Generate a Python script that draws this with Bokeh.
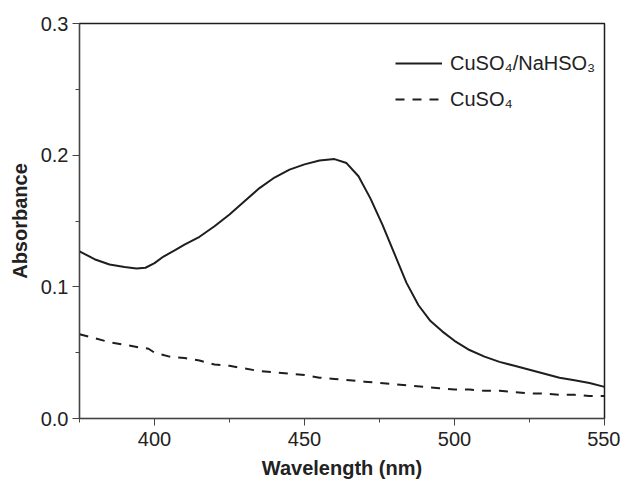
from bokeh.plotting import figure
from bokeh.models import Range1d, FixedTicker, Legend, LegendItem, PrintfTickFormatter
from bokeh.embed import file_html
from bokeh.resources import INLINE

# ---- data ----
wl_mix = [375, 380, 385, 390, 394, 397, 400, 403, 407, 410, 415, 420, 425, 430, 435,
          440, 445, 450, 455, 460, 464, 468, 472, 476, 480, 484, 488, 492, 496, 500,
          505, 510, 515, 520, 525, 530, 535, 540, 545, 550]
abs_mix = [0.127, 0.121, 0.117, 0.115, 0.114, 0.1145, 0.118, 0.123, 0.128, 0.132, 0.138,
           0.146, 0.155, 0.165, 0.175, 0.183, 0.189, 0.193, 0.196, 0.197, 0.194, 0.184,
           0.167, 0.147, 0.125, 0.103, 0.086, 0.074, 0.066, 0.059, 0.052, 0.047, 0.043,
           0.040, 0.037, 0.034, 0.031, 0.029, 0.027, 0.024]

wl_cu = [375, 380, 385, 390, 395, 398, 400, 405, 410, 415, 420, 425, 430, 435, 440, 445,
         450, 455, 460, 465, 470, 475, 480, 485, 490, 495, 500, 505, 510, 515, 520, 525,
         530, 535, 540, 545, 550]
abs_cu = [0.064, 0.061, 0.058, 0.056, 0.054, 0.053, 0.050, 0.047, 0.046, 0.044, 0.041,
          0.040, 0.038, 0.036, 0.035, 0.034, 0.033, 0.031, 0.030, 0.029, 0.028, 0.027,
          0.026, 0.025, 0.024, 0.023, 0.022, 0.022, 0.021, 0.021, 0.020, 0.019, 0.019,
          0.018, 0.018, 0.017, 0.017]

x_ticks = [400, 450, 500, 550]
y_ticks = [0.0, 0.1, 0.2, 0.3]
label_mix = "CuSO\u2084/NaHSO\u2083"
label_cu = "CuSO\u2084"

FONT = "Liberation Sans"
INK = "#1e1e1e"

p = figure(width=620, height=485, output_backend="svg", toolbar_location=None,
           x_range=Range1d(375, 550), y_range=Range1d(0, 0.3),
           min_border_left=79, min_border_right=16, min_border_top=23, min_border_bottom=67)

p.background_fill_color = "white"
p.border_fill_color = "white"
p.outline_line_color = INK
p.outline_line_width = 1.5
p.xgrid.visible = False
p.ygrid.visible = False

r1 = p.line(wl_mix, abs_mix, line_color=INK, line_width=2, line_join="round")
r2 = p.line(wl_cu, abs_cu, line_color=INK, line_width=2, line_dash="9 8")

for ax in (p.xaxis[0], p.yaxis[0]):
    ax.major_tick_in = 0
    ax.major_tick_out = 7
    ax.minor_tick_in = 0
    ax.minor_tick_out = 4
    ax.axis_line_color = "#444444"
    ax.major_tick_line_color = "#444444"
    ax.minor_tick_line_color = "#444444"
    ax.major_label_text_font = FONT
    ax.major_label_text_font_size = "20px"
    ax.major_label_text_color = "#222222"
    ax.axis_label_text_font = FONT
    ax.axis_label_text_font_style = "bold"
    ax.axis_label_text_font_size = "20px"
    ax.axis_label_text_color = "#222222"

p.xaxis.ticker = FixedTicker(ticks=x_ticks, minor_ticks=[375, 425, 475, 525])
p.yaxis.ticker = FixedTicker(ticks=y_ticks, minor_ticks=[0.05, 0.15, 0.25])
p.yaxis.formatter = PrintfTickFormatter(format="%.1f")
p.xaxis.axis_label = "Wavelength (nm)"
p.yaxis.axis_label = "Absorbance"
p.xaxis.major_label_standoff = 6
p.yaxis.major_label_standoff = 4
p.xaxis.axis_label_standoff = 8
p.yaxis.axis_label_standoff = 7

legend = Legend(items=[LegendItem(label=label_mix, renderers=[r1]),
                       LegendItem(label=label_cu, renderers=[r2])],
                location=(316, 301))
legend.border_line_color = None
legend.background_fill_alpha = 0
legend.padding = 0
legend.margin = 0
legend.spacing = 0
legend.glyph_width = 47
legend.glyph_height = 36
legend.label_height = 36
legend.label_standoff = 8
legend.label_text_font = FONT
legend.label_text_font_size = "20px"
legend.label_text_color = "#222222"
p.add_layout(legend)

open("out.html", "w").write(file_html(p, INLINE))
